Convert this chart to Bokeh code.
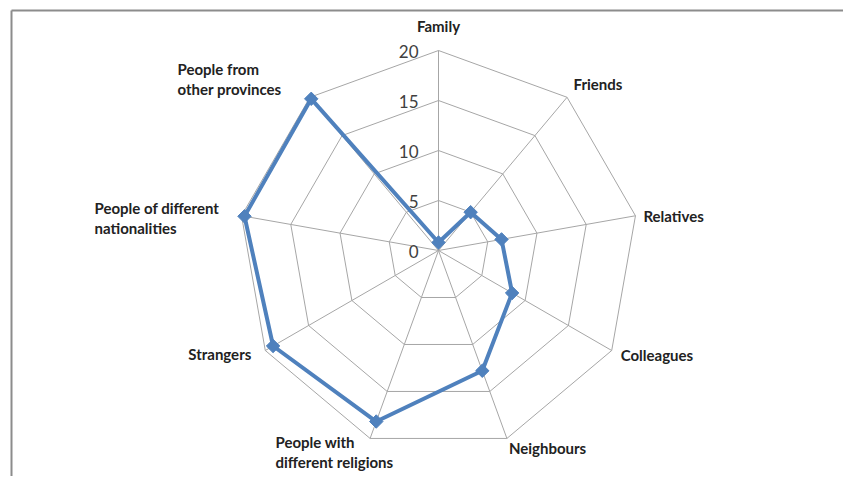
import numpy as np
from bokeh.plotting import figure
from bokeh.models import Range1d
from bokeh.core.properties import value
from bokeh.embed import file_html
from bokeh.resources import INLINE

# ---- data ----
categories = ["Family", "Friends", "Relatives", "Colleagues", "Neighbours",
              "People with\ndifferent religions", "Strangers",
              "People of different\nnationalities", "People from\nother provinces"]
values = [0.8, 5.0, 6.4, 8.5, 12.8, 18.2, 19.1, 19.7, 19.8]
ring_values = [5, 10, 15, 20]
tick_labels = ["0", "5", "10", "15", "20"]
tick_values = [0, 5, 10, 15, 20]

# ---- layout / style ----
W, H = 843, 476
# 1 data unit = 10 px; centre of radar at screen (438, 250)
p = figure(width=W, height=H, output_backend="svg", toolbar_location=None,
           x_range=Range1d(-43.8, 40.5), y_range=Range1d(-22.6, 25.0),
           min_border=0)
p.axis.visible = False
p.grid.visible = False
p.outline_line_color = None
p.background_fill_color = "white"
p.border_fill_color = "white"

n = len(categories)
ang = np.arange(n) * 2 * np.pi / n  # clockwise from top
sx, cy = np.sin(ang), np.cos(ang)
rmax = ring_values[-1]

# frame (top and left edges of the chart area)
p.line([-42.7, 40.5], [24.0, 24.0], line_color="#8c8c8c", line_width=2)
p.line([-42.7, -42.7], [24.0, -22.6], line_color="#8c8c8c", line_width=2)

grid_col = "#a6a6a6"
# rings
for rv in ring_values:
    xs = list(rv * sx) + [rv * sx[0]]
    ys = list(rv * cy) + [rv * cy[0]]
    p.line(xs, ys, line_color=grid_col, line_width=1)
# spokes
p.segment(x0=[0] * n, y0=[0] * n, x1=list(rmax * sx), y1=list(rmax * cy),
          line_color=grid_col, line_width=1)

# tick labels
p.text(x=[0] * len(tick_values), y=tick_values, text=tick_labels,
       x_offset=-20, y_offset=1,
       text_align="right", text_baseline="middle",
       text_font=value("Lato"), text_font_size="17px", text_color="#404040")

# series
vx = list(np.array(values) * sx)
vy = list(np.array(values) * cy)
p.line(vx + [vx[0]], vy + [vy[0]], line_color="#4f81bd", line_width=4)
p.scatter(vx, vy, marker="square", size=9.5, angle=np.pi / 4,
          fill_color="#4f81bd", line_color="#4f81bd", line_width=1)

# category labels (anchored to outer vertex with pixel offsets)
lab_align = ["center", "left", "left", "left", "left", "left", "right", "left", "left"]
lab_dx = [0, 6.5, 8, 9, 2, -94.6, -14, -147, -132.4]
lab_dy = [-25, -13, 0, 4, 10, 13.7, 3, 2, -18.3]
for i in range(n):
    p.text(x=[rmax * sx[i]], y=[rmax * cy[i]], text=[categories[i]],
           x_offset=lab_dx[i], y_offset=lab_dy[i],
           text_align=lab_align[i], text_baseline="middle",
           text_font=value("Lato"), text_font_style="bold",
           text_font_size="15px", text_color="#222222",
           text_line_height=1.1)

open("out.html", "w").write(file_html(p, INLINE))
